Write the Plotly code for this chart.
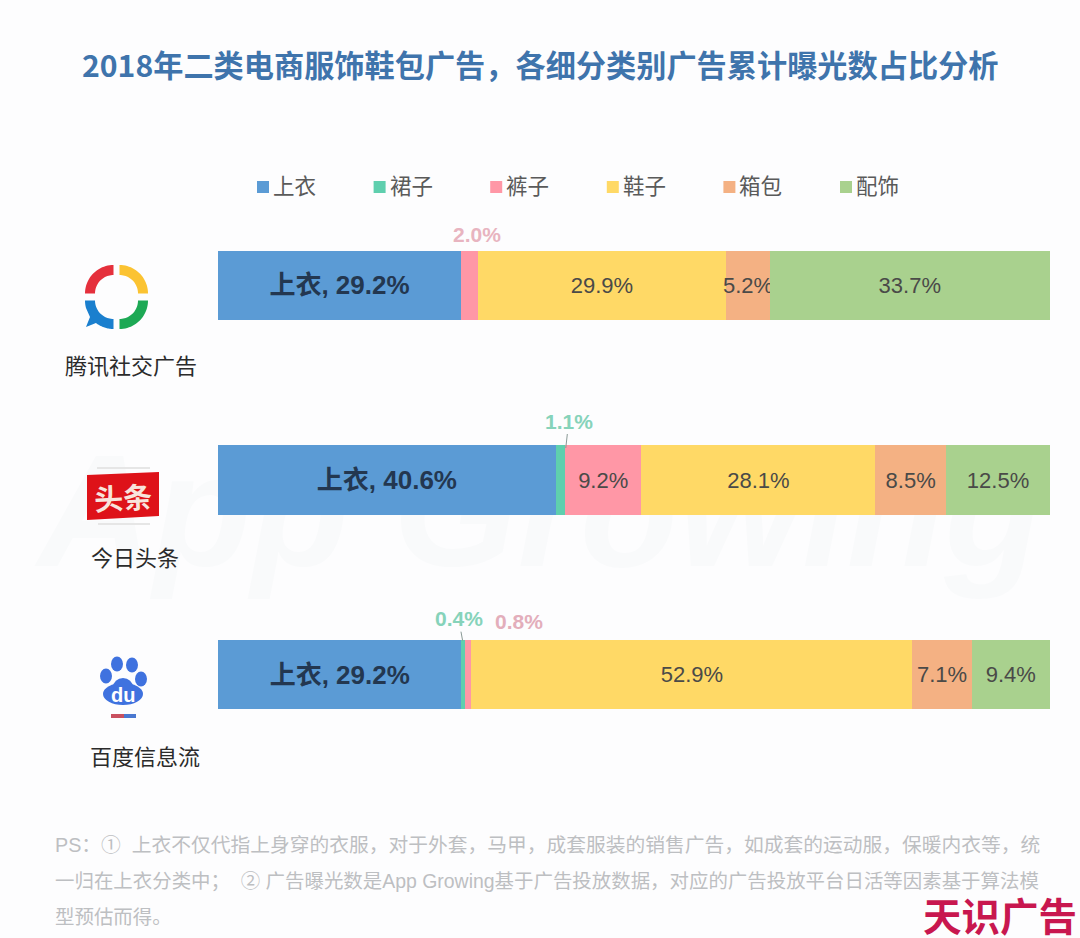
import numpy as np
import plotly.graph_objects as go

W, H = 1080, 938
L, R, T, B = 218, 1050, 188, 772  # plot area in pixels

platforms = ["腾讯社交广告", "今日头条", "百度信息流"]
series_names = ["上衣", "裙子", "裤子", "鞋子", "箱包", "配饰"]
series_colors = ["#5B9BD5", "#5FCFAE", "#FF97A6", "#FFD966", "#F4B183", "#A9D18E"]

tops = [29.2, 40.6, 29.2]
skirts = [0, 1.1, 0.4]
pants = [2.0, 9.2, 0.8]
shoes = [29.9, 28.1, 52.9]
bags = [5.2, 8.5, 7.1]
accessories = [33.7, 12.5, 9.4]
all_values = [tops, skirts, pants, shoes, bags, accessories]

title = "2018年二类电商服饰鞋包广告，各细分类别广告累计曝光数占比分析"
notes = [
    "PS：①  上衣不仅代指上身穿的衣服，对于外套，马甲，成套服装的销售广告，如成套的运动服，保暖内衣等，统",
    "一归在上衣分类中；  ② 广告曝光数是App Growing基于广告投放数据，对应的广告投放平台日活等因素基于算法模",
    "型预估而得。",
]

LATIN = "Liberation Sans, Noto Sans CJK SC, sans-serif"
CJK = "Noto Sans CJK SC, Liberation Sans, sans-serif"


def px(x):
    return (x - L) / (R - L)


def py(y):
    return (B - y) / (B - T)


def poly(points):
    return "M" + "L".join(f"{px(x):.5f},{py(y):.5f}" for x, y in points) + "Z"


def arc(cx, cy, r, a0, a1, n=24):
    angles = np.radians(np.linspace(a0, a1, n))
    return [(cx + r * np.cos(a), cy - r * np.sin(a)) for a in angles]


def ring_piece(cx, cy, r0, r1, a0, a1):
    return poly(arc(cx, cy, r1, a0, a1) + arc(cx, cy, r0, a1, a0))


def ellipse(cx, cy, rx, ry, color):
    return dict(type="circle", xref="paper", yref="paper", layer="above",
                x0=px(cx - rx), x1=px(cx + rx), y0=py(cy + ry), y1=py(cy - ry),
                fillcolor=color, line_width=0)


def path_shape(path, color):
    return dict(type="path", xref="paper", yref="paper", layer="above",
                path=path, fillcolor=color, line_width=0)


def rect(x0, y0, x1, y1, color):
    return dict(type="rect", xref="paper", yref="paper", layer="above",
                x0=px(x0), x1=px(x1), y0=py(y1), y1=py(y0),
                fillcolor=color, line_width=0)


fig = go.Figure()

for name, color, values in zip(series_names, series_colors, all_values):
    labels = []
    for v in values:
        if name == "上衣":
            labels.append(f"<b>上衣, {v}%</b>")
        elif v > 2.0:
            labels.append(f"{v}%")
        else:
            labels.append("")
    fig.add_trace(go.Bar(
        name=name,
        y=platforms,
        x=values,
        orientation="h",
        marker=dict(color=color, line_width=0),
        text=labels,
        textposition="inside",
        insidetextanchor="middle",
        constraintext="none",
        textangle=0,
        textfont=dict(family=LATIN, size=22 if name != "上衣" else 26,
                      color="#4A4A48" if name != "上衣" else "#233750"),
    ))

# small segments get their label above the bar
annotations = [
    dict(x=tops[0] + pants[0], y=platforms[0], xref="x", yref="y", text=f"<b>{pants[0]:.1f}%</b>",
         showarrow=False, xshift=-1, yshift=51, font=dict(family=LATIN, size=21, color="#E8B4C0")),
    dict(x=tops[1] + skirts[1] + 0.1, y=platforms[1], xref="x", yref="y", text=f"<b>{skirts[1]}%</b>",
         showarrow=True, arrowhead=0, arrowwidth=1, arrowcolor="#8A9A96", ax=3, ay=-27,
         yshift=32, font=dict(family=LATIN, size=21, color="#86D3BA")),
    dict(x=tops[2] + skirts[2] / 2, y=platforms[2], xref="x", yref="y", text=f"<b>{skirts[2]}%</b>",
         showarrow=True, arrowhead=0, arrowwidth=1, arrowcolor="#8A9A96", ax=-4, ay=-22,
         yshift=34, font=dict(family=LATIN, size=21, color="#86D3BA")),
    dict(x=tops[2] + skirts[2] + pants[2], y=platforms[2], xref="x", yref="y", text=f"<b>{pants[2]}%</b>",
         showarrow=False, xshift=48, yshift=53, font=dict(family=LATIN, size=21, color="#E3AEBB")),
]


def page_text(x, y, text, size, color, anchor="center", family=CJK, angle=0):
    return dict(x=px(x), y=py(y), xref="paper", yref="paper", text=text, showarrow=False,
                xanchor=anchor, yanchor="middle", textangle=angle,
                font=dict(family=family, size=size, color=color))


annotations.append(page_text(540, 64, f"<b>{title}</b>", 30.2, "#3F74AC"))
for name, cx, cy in zip(platforms, [131, 135, 145], [364, 556, 755]):
    annotations.append(page_text(cx, cy, name, 22, "#2B2B2B"))
for line, cy, size in zip(notes, [845, 881, 917], [19.75, 19.45, 19.45]):
    annotations.append(page_text(53, cy, line, size, "#BDBFC2", anchor="left", family=LATIN))
annotations.append(page_text(1000, 914, "<b>天识广告</b>", 38.5, "#C8174F"))
annotations.append(page_text(123, 496, "<b>头条</b>", 29, "#F8E4DC", angle=-3))
annotations.append(page_text(123, 695, "<b>du</b>", 20, "#FFFFFF", family=LATIN))

shapes = [
    # watermark, behind the bars
    dict(type="rect", xref="paper", yref="paper", layer="below", x0=px(40), x1=px(1040),
         y0=py(620), y1=py(370), line_width=0, fillcolor="rgba(0,0,0,0)",
         label=dict(text="<b><i>App Growing</i></b>", textposition="middle center",
                    font=dict(family=LATIN, size=160, color="#F9FAFB"))),
    # tencent logo
    path_shape(ring_piece(113.5, 293.5, 18.5, 28.5, 90, 180), "#E5303C"),
    path_shape(ring_piece(119.5, 293.5, 18.5, 28.5, 0, 90), "#FBC332"),
    path_shape(poly(arc(113.5, 300.5, 18.5, 180, 270) + arc(113.5, 300.5, 28.5, 270, 232)
                    + [(86, 327), (90, 317)] + arc(113.5, 300.5, 28.5, 196, 180)), "#1A7FCE"),
    path_shape(ring_piece(119.5, 300.5, 18.5, 28.5, 270, 360), "#1DA955"),
    # toutiao logo
    path_shape(poly([(87, 475), (159, 472), (159, 516), (87, 520)]), "#DE1219"),
    rect(97, 467, 150, 469, "#E6E6E6"),
    rect(98, 523, 150, 525, "#E6E6E6"),
    # baidu logo
    ellipse(106, 676, 6, 7.5, "#3F72DF"),
    ellipse(117, 664, 6, 7.5, "#3F72DF"),
    ellipse(132, 665, 6, 7.5, "#3F72DF"),
    ellipse(141, 679, 6, 7.5, "#3F72DF"),
    ellipse(123, 694, 20, 11, "#3F72DF"),
    ellipse(123, 687, 10, 9, "#3F72DF"),
    rect(111, 714, 124, 718, "#C9505F"),
    rect(124, 714, 136, 718, "#4A78D0"),
]

# legend row is drawn by hand, plotly's own legend cannot keep the swatch this close to the text
for i, (name, color) in enumerate(zip(series_names, series_colors)):
    left = 257 + i * 116.6
    shapes.append(rect(left, 181, left + 12, 193, color))
    annotations.append(page_text(left + 14, 185, name, 21.5, "#5A5A5A", anchor="left"))

fig.update_layout(
    width=W,
    height=H,
    autosize=False,
    barmode="stack",
    barnorm="percent",
    bargap=0.645,
    paper_bgcolor="#FDFDFE",
    plot_bgcolor="rgba(0,0,0,0)",
    margin=dict(l=L, r=W - R, t=T, b=H - B, pad=0),
    xaxis=dict(range=[0, 100], visible=False, fixedrange=True),
    yaxis=dict(range=[2.5, -0.5], type="category", categoryorder="array", categoryarray=platforms,
               visible=False, fixedrange=True),
    annotations=annotations,
    shapes=shapes,
    showlegend=False,
)

fig.write_html("out.html", config={"displayModeBar": False},
               post_script="document.body.style.margin='0';")
